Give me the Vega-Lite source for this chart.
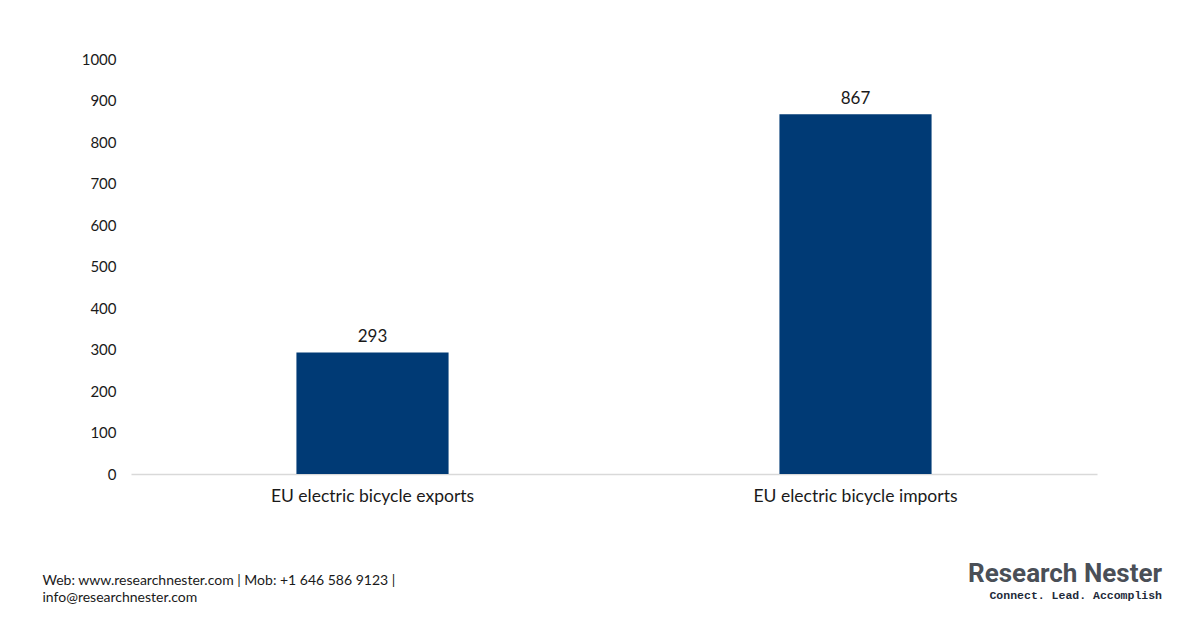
{
  "$schema": "https://vega.github.io/schema/vega-lite/v6.json",
  "width": 966,
  "height": 415,
  "autosize": {"type": "none"},
  "padding": {"left": 131, "top": 59, "right": 103, "bottom": 154},
  "background": "white",
  "config": {
    "view": {"stroke": null},
    "font": "Lato"
  },
  "title": {
    "text": "Research Nester",
    "subtitle": "Connect. Lead. Accomplish",
    "orient": "bottom",
    "anchor": "end",
    "frame": "bounds",
    "font": "Roboto",
    "fontSize": 26,
    "fontWeight": "bold",
    "color": "#4a4f57",
    "subtitleFont": "Liberation Mono",
    "subtitleFontSize": 11.5,
    "subtitleFontWeight": "bold",
    "subtitleColor": "#1e2a3a",
    "subtitlePadding": 3,
    "offset": -43,
    "dx": 65
  },
  "data": {
    "values": [
      {"Category": "EU electric bicycle exports", "Value": 293},
      {"Category": "EU electric bicycle imports", "Value": 867}
    ]
  },
  "encoding": {
    "x": {
      "field": "Category",
      "type": "nominal",
      "sort": null,
      "scale": {"paddingInner": 0, "paddingOuter": 0},
      "axis": {
        "title": null,
        "labelAngle": 0,
        "labelLimit": 0,
        "labelFontSize": 17.5,
        "labelColor": "#1a1a1a",
        "labelPadding": 13,
        "ticks": false,
        "domainColor": "#d9d9d9",
        "domainWidth": 1.5
      }
    },
    "y": {
      "field": "Value",
      "type": "quantitative",
      "scale": {"domain": [0, 1000]},
      "axis": {
        "values": [0, 100, 200, 300, 400, 500, 600, 700, 800, 900, 1000],
        "format": "d",
        "grid": false,
        "domain": false,
        "ticks": false,
        "labelFontSize": 15,
        "labelColor": "#1a1a1a",
        "labelPadding": 15,
        "title": ["Web: www.researchnester.com | Mob: +1 646 586 9123 |", "info@researchnester.com"],
        "titleAngle": 0,
        "titleAlign": "left",
        "titleBaseline": "top",
        "titleX": -89,
        "titleY": 514,
        "titleFont": "Lato",
        "titleFontSize": 14,
        "titleFontWeight": "normal",
        "titleColor": "#1a1a1a",
        "titleLineHeight": 17
      }
    }
  },
  "layer": [
    {
      "mark": {"type": "bar", "color": "#003a75", "width": {"band": 0.315}}
    },
    {
      "mark": {"type": "text", "baseline": "bottom", "dy": -6, "fontSize": 17, "color": "#1a1a1a"},
      "encoding": {
        "text": {"field": "Value", "type": "quantitative"}
      }
    }
  ]
}
